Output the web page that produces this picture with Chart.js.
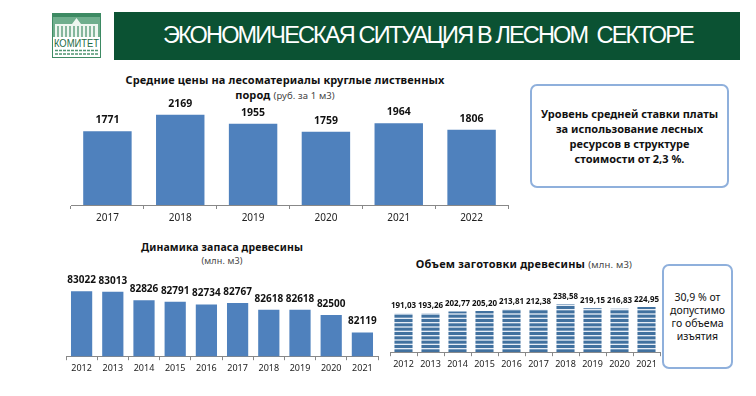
<!DOCTYPE html>
<html><head><meta charset="utf-8">
<script src="https://cdn.jsdelivr.net/npm/chart.js@4"></script>
<style>
html,body{margin:0;padding:0;background:#fff;width:756px;height:396px;overflow:hidden;font-family:"Noto Sans",sans-serif;color:#111}
.abs{position:absolute}
canvas{position:absolute}
#banner{left:114px;top:12px;width:626px;height:48px;background:#0b5233;color:#fff;font:23.5px "Liberation Sans",sans-serif;letter-spacing:-1.85px;line-height:47px;padding-left:49px;box-sizing:border-box;white-space:nowrap}
.t{font-weight:700;font-size:11px;letter-spacing:.12px;text-align:center;white-space:nowrap;line-height:15px}
.s{font-weight:400;font-size:9.5px;color:#444}
.box{border:2px solid #8fb0dc;border-radius:7px;box-sizing:border-box;display:flex;align-items:center;justify-content:center;text-align:center;background:#fff}
</style></head><body>
<svg class="abs" style="left:52px;top:13px" width="49" height="45" viewBox="0 0 49 45">
<rect x="0.5" y="0.5" width="48" height="44" fill="#fff" stroke="#3d8a63"/>
<rect x="1" y="1" width="47" height="3" fill="#3d8a63"/>
<rect x="1" y="4" width="47" height="20" fill="#6fae8d"/>
<path d="M3 24V11H20L24.5 5L29 11H46V24Z" fill="#eef6f0"/>
<path d="M6 13V24M10 13V24M14 13V24M18 13V24M22 13V24M26 13V24M30 13V24M34 13V24M38 13V24M42 13V24" stroke="#5a9c7a" stroke-width="1.4"/>
<text x="24.5" y="34" text-anchor="middle" font-family="Liberation Sans" font-size="11" fill="#1c6b45" textLength="45" lengthAdjust="spacingAndGlyphs">КОМИТЕТ</text>
<path d="M3 37.5H46M3 41H46" stroke="#4f9571" stroke-width="1.3" stroke-dasharray="3 1"/>
</svg>
<div id="banner" class="abs">ЭКОНОМИЧЕСКАЯ СИТУАЦИЯ В ЛЕСНОМ&nbsp; СЕКТОРЕ</div>
<div class="abs t" style="left:70px;width:430px;top:72px">Средние цены на лесоматериалы круглые лиственных<br>пород <span class="s">(руб. за 1 м3)</span></div>
<div class="abs t" style="left:72px;width:300px;top:241px;line-height:13px;font-size:10.5px">Динамика запаса древесины<br><span class="s" style="font-size:9px">(млн. м3)</span></div>
<div class="abs t" style="left:384px;width:280px;top:256px;letter-spacing:.2px">Объем заготовки древесины <span class="s">(млн. м3)</span></div>
<div class="abs box" style="left:530px;top:84px;width:199px;height:104px;font-weight:700;font-size:11px;line-height:15px">Уровень средней ставки платы<br>за использование лесных<br>ресурсов в структуре<br>стоимости от 2,3 %.</div>
<div class="abs box" style="left:662px;top:264px;width:71px;height:105px;font-size:10.5px;line-height:13px">30,9 % от<br>допустимо<br>го объема<br>изъятия</div>
<canvas id="c1" style="left:60px;top:90px" width="460" height="145"></canvas>
<canvas id="c2" style="left:55px;top:262px" width="335" height="123"></canvas>
<canvas id="c3" style="left:380px;top:280px" width="290" height="101"></canvas>
<script>
const priceYears=["2017","2018","2019","2020","2021","2022"];
const priceValues=[1771,2169,1955,1759,1964,1806];
const stockYears=["2012","2013","2014","2015","2016","2017","2018","2019","2020","2021"];
const stockValues=[83022,83013,82826,82791,82734,82767,82618,82618,82500,82119];
const harvestYears=["2012","2013","2014","2015","2016","2017","2018","2019","2020","2021"];
const harvestValues=[191.03,193.26,202.77,205.20,213.81,212.38,238.58,219.15,216.83,224.95];
const harvestLabels=["191,03","193,26","202,77","205,20","213,81","212,38","238,58","219,15","216,83","224,95"];

Chart.defaults.animation=false;
Chart.defaults.font.family='"Noto Sans",sans-serif';
const BLUE='#4f81bd';
function stripes(){const p=document.createElement('canvas');p.width=4;p.height=13;const x=p.getContext('2d');
 x.fillStyle='#e6edf6';x.fillRect(0,0,4,13);x.fillStyle='#41719f';
 [0,4.33,8.67].forEach(y=>x.fillRect(0,y,4,3));return x.createPattern(p,'repeat');}
const labelPlugin={id:'lbl',afterDatasetsDraw(ch,_,o){const c=ch.ctx,m=ch.getDatasetMeta(0),d=ch.data.datasets[0];
 c.save();c.font=`700 ${o.size}px "Noto Sans",sans-serif`;c.fillStyle='#111';c.textAlign='center';c.textBaseline='alphabetic';
 m.data.forEach((b,i)=>c.fillText(o.texts?o.texts[i]:String(d.data[i]),b.x,b.y-o.gap));c.restore();}};
function make(id,labels,data,bg,yMin,yMax,bp,tick,pad,extra){
 return new Chart(document.getElementById(id),{type:'bar',plugins:[labelPlugin],
 data:{labels,datasets:[{data,backgroundColor:bg,barPercentage:bp,categoryPercentage:1,borderWidth:0}]},
 options:{responsive:false,layout:{padding:pad},
 plugins:{legend:{display:false},tooltip:{enabled:false},lbl:extra},
 scales:{y:{display:false,min:yMin,max:yMax},
 x:{offset:true,grid:{display:true,drawOnChartArea:false,drawTicks:true,tickLength:4,tickColor:'#888',offset:true},border:{display:true,color:'#888'},
  ticks:{font:{size:tick},color:'#222',padding:3,maxRotation:0,autoSkip:false}}}}});
}
make('c1',priceYears,priceValues,BLUE,0,2500,0.665,10,{left:11,right:12,top:11,bottom:8},{size:10.5,gap:8});
make('c2',stockYears,stockValues,BLUE,81600,83400,0.68,9,{left:11,right:12,top:12,bottom:8},{size:10,gap:8});
make('c3',harvestYears,harvestValues,stripes(),0,300,0.67,9,{left:10,right:10,top:12,bottom:8},{size:8,gap:5.5,texts:harvestLabels});
</script>
</body></html>
